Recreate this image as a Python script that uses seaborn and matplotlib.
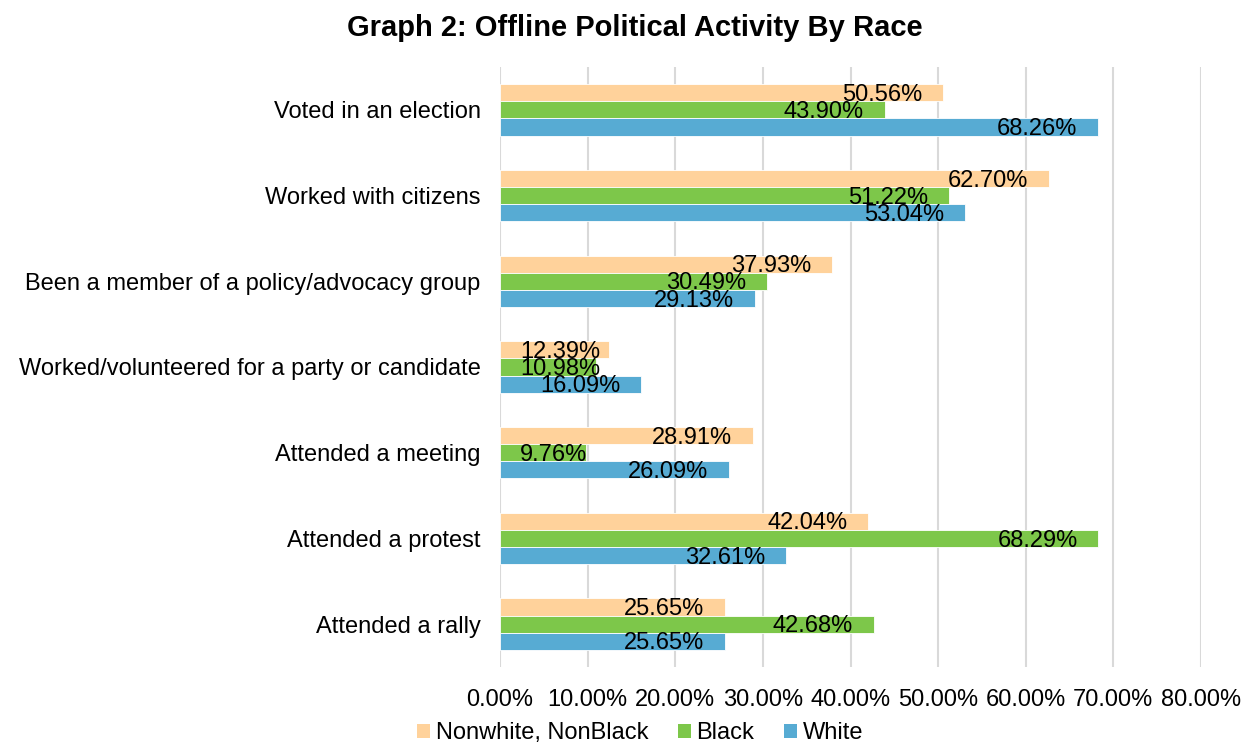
import matplotlib
matplotlib.use("Agg")
import matplotlib.pyplot as plt
import seaborn as sns
import pandas as pd
from matplotlib.patches import Patch

activities = [
    "Voted in an election",
    "Worked with citizens",
    "Been a member of a policy/advocacy group",
    "Worked/volunteered for a party or candidate",
    "Attended a meeting",
    "Attended a protest",
    "Attended a rally",
]
groups = ["Nonwhite, NonBlack", "Black", "White"]
nonwhite_nonblack = [50.56, 62.70, 37.93, 12.39, 28.91, 42.04, 25.65]
black = [43.90, 51.22, 30.49, 10.98, 9.76, 68.29, 42.68]
white = [68.26, 53.04, 29.13, 16.09, 26.09, 32.61, 25.65]
x_ticks = [0, 10, 20, 30, 40, 50, 60, 70, 80]
colors = ["#FFD29B", "#7DC74A", "#57ABD3"]

rows = []
for name, vals in zip(groups, [nonwhite_nonblack, black, white]):
    for act, v in zip(activities, vals):
        rows.append({"Activity": act, "Group": name, "Percent": v})
df = pd.DataFrame(rows)

sns.set_theme(style="white")
plt.rcParams["font.family"] = ["Liberation Sans", "DejaVu Sans"]
plt.rcParams["text.color"] = "black"
plt.rcParams["xtick.color"] = "black"
plt.rcParams["ytick.color"] = "black"

fig = plt.figure(figsize=(12.45, 7.44), dpi=100)
ax = fig.add_axes([500 / 1245, 1 - 667 / 744, 701 / 1245, 600 / 744])

sns.barplot(
    data=df, y="Activity", x="Percent", hue="Group",
    order=activities, hue_order=groups, palette=colors, saturation=1,
    orient="h", width=0.6, gap=0, errorbar=None,
    edgecolor="white", linewidth=0.6, legend=False, ax=ax,
)

ax.set_xlim(0, 80)
ax.set_ylim(len(activities) - 0.5, -0.5)
ax.set_xticks(x_ticks)
ax.set_xticklabels([f"{t:.2f}%" for t in x_ticks])
ax.grid(axis="x", color="#D9D9D9", linewidth=1.5)
ax.grid(axis="y", visible=False)
ax.set_axisbelow(True)
for s in ax.spines.values():
    s.set_visible(False)
ax.tick_params(axis="x", length=0, pad=16, labelsize=17, colors="black")
ax.tick_params(axis="y", length=0, pad=14, labelsize=17, colors="black")
ax.set_xlabel("")
ax.set_ylabel("")

# value labels sit just inside the end of each bar; short bars keep the
# label clear of the axis instead
labels = []
for container in ax.containers:
    for bar in container:
        w = bar.get_width()
        yc = bar.get_y() + bar.get_height() / 2
        t = ax.annotate(f"{w:.2f}%", xy=(w, yc), xytext=(-15, -1.5),
                        textcoords="offset points", ha="right", va="center",
                        fontsize=17, color="black", annotation_clip=False)
        labels.append((t, yc))

fig.canvas.draw()
renderer = fig.canvas.get_renderer()
min_left = ax.transData.transform((0, 0))[0] + 20
for t, yc in labels:
    bb = t.get_window_extent(renderer)
    if bb.x0 < min_left:
        t.xy = (0, yc)
        t.set_ha("left")
        t.set_position((14.4, -1.5))

fig.text(635 / 1245, 1 - 28 / 744, "Graph 2: Offline Political Activity By Race",
         ha="center", va="center", fontsize=21, fontweight="bold", color="black")

handles = [Patch(facecolor=c, edgecolor="none") for c in colors]
fig.legend(handles, groups, loc="center", ncol=3,
           bbox_to_anchor=(640 / 1245, 1 - 733 / 744), frameon=False,
           fontsize=17, handlelength=0.55, handleheight=0.55,
           handletextpad=0.25, columnspacing=1.25, borderaxespad=0)

fig.savefig("out.png", dpi=100)
